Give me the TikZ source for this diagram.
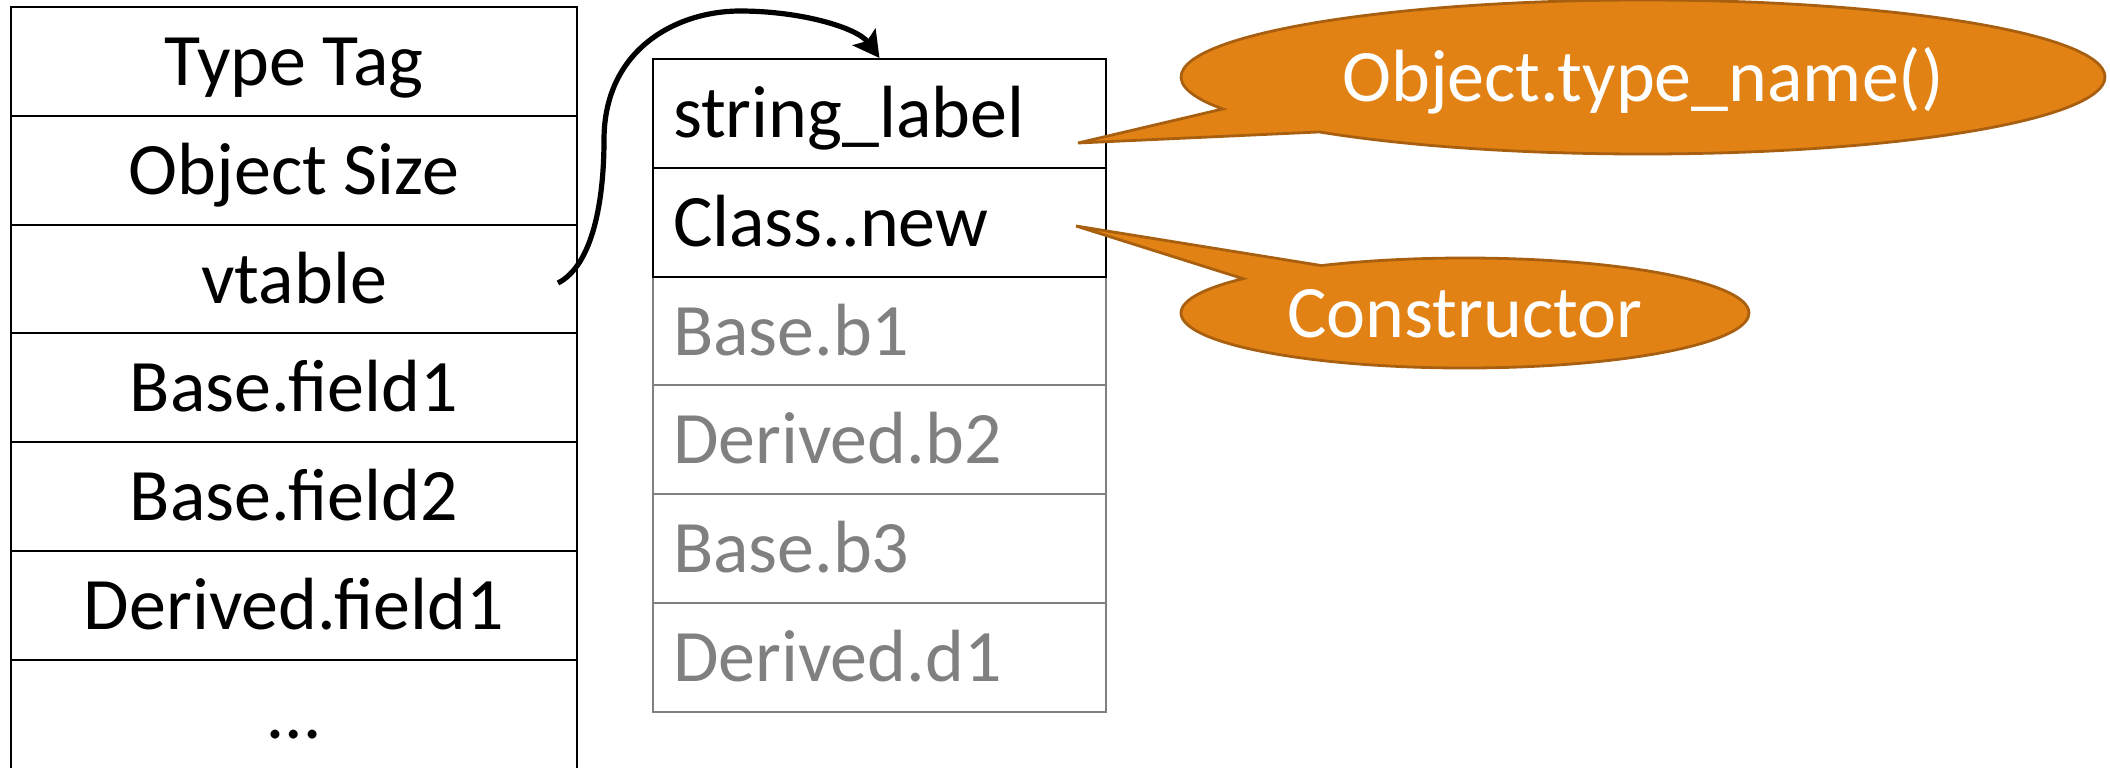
\documentclass[tikz,border=0pt]{standalone}
\usepackage{fontspec}
\setmainfont{Carlito}
\usetikzlibrary{arrows.meta,shapes.callouts}

\definecolor{orangebulle}{RGB}{227,130,20}
\definecolor{bordbulle}{RGB}{168,96,16}
\definecolor{grischamp}{RGB}{128,128,128}

\tikzset{
  champ/.style={draw, line width=1pt, minimum width=283pt, minimum height=54.4pt,
    inner sep=0pt, text height=24pt, text depth=0pt,
    font=\fontsize{37}{44}\selectfont},
  entree/.style={champ, minimum width=226.5pt, text width=206.5pt,
    inner xsep=10pt, align=left},
  entreegrise/.style={entree, draw=grischamp, text=grischamp},
  bulle/.style={ellipse callout, fill=orangebulle, draw=bordbulle, line width=1.4pt,
    text=white, inner sep=0pt, callout pointer arc=21, text height=24pt,
    text depth=0pt, font=\fontsize{37}{44}\selectfont},
  fleche/.style={line width=2.6pt, -{Stealth[length=13pt,width=14pt,inset=2.5pt]}}
}

\begin{document}
\begin{tikzpicture}[x=0.5pt,y=-0.5pt]
    \useasboundingbox (0,0) rectangle (2110,767);

    % Objet en mémoire (colonne de gauche)
    \foreach \i/\lbl in {
        0/{Type Tag},
        1/{Object Size},
        2/{vtable},
        3/{Base.field1},
        4/{Base.field2},
        5/{Derived.field1},
        6/{…}
    }{
      \node[champ] (obj\i) at (294,61.4+108.8*\i) {\lbl};
    }

    % Table virtuelle : les entrées grises d'abord, les noires par-dessus
    \foreach \i/\lbl in {
        2/{Base.b1},
        3/{Derived.b2},
        4/{Base.b3},
        5/{Derived.d1}
    }{
      \node[entreegrise] (vt\i) at (879.5,113.4+108.8*\i) {\lbl};
    }
    \node[entree] (vt0) at (879.5,113.4) {string\_label};
    \node[entree] (vt1) at (879.5,222.2) {Class..new};

    % Pointeur vtable -> table
    \draw[fleche] ([xshift=-10pt,yshift=-2pt]obj2.east)
      .. controls +(35,-18) and +(0,60) .. (604,140)
      .. controls +(0,-92) and +(-62,0) .. (740,11)
      .. controls +(62,0) and +(-22,-30) .. (vt0.north);

    % Bulles
    \coordinate (pointeA) at (1078,143);
    \coordinate (pointeB) at (1076,226);
    \node[bulle, minimum width=462pt, minimum height=77pt,
      callout absolute pointer={(pointeA)}] (bulleA) at (1643,77) {Object.type\_name()};
    \node[bulle, minimum width=284pt, minimum height=55pt,
      callout absolute pointer={(pointeB)}] (bulleB) at (1465,313) {Constructor};

\end{tikzpicture}
\end{document}
